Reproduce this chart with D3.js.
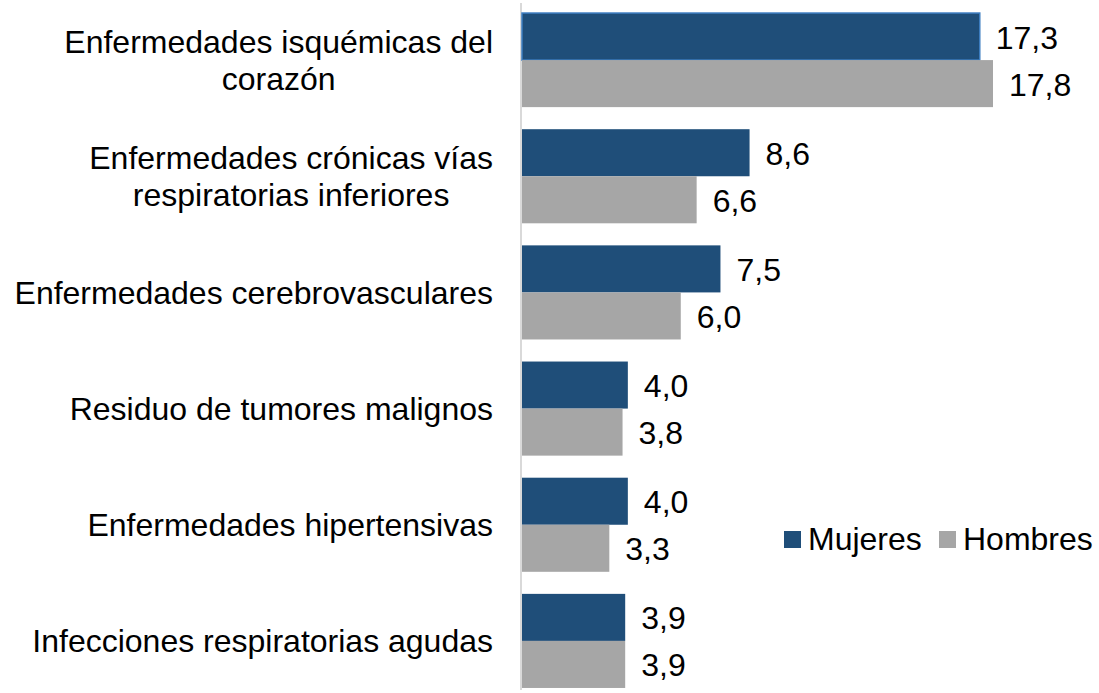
<!DOCTYPE html>
<html>
<head>
<meta charset="utf-8">
<script src="https://cdn.jsdelivr.net/npm/d3@7/dist/d3.min.js"></script>
<style>
  html, body { margin: 0; padding: 0; background: #fff; }
  svg { display: block; font-family: "Liberation Sans", Arial, sans-serif; }
</style>
</head>
<body>
<svg id="chart" width="1099" height="693"></svg>
<script>
const categories = [
  ["Enfermedades isquémicas del", "corazón"],
  ["Enfermedades crónicas vías", "respiratorias inferiores"],
  ["Enfermedades cerebrovasculares"],
  ["Residuo de tumores malignos"],
  ["Enfermedades hipertensivas"],
  ["Infecciones respiratorias agudas"]
];
const seriesNames = ["Mujeres", "Hombres"];
const mujeres = [17.3, 8.6, 7.5, 4.0, 4.0, 3.9];
const hombres = [17.8, 6.6, 6.0, 3.8, 3.3, 3.9];
const colors = ["#1f4e79", "#a6a6a6"];

const svg = d3.select("#chart");
const fontSize = 32;
const x0 = 522;
const x = d3.scaleLinear().domain([0, 17.8]).range([x0, 993]);
const catIdx = d3.range(categories.length);
const y = d3.scaleBand().domain(catIdx).range([2, 699]).paddingInner(0.19).paddingOuter(0.095);
const ySub = d3.scaleBand().domain(seriesNames).range([0, y.bandwidth()]);

const fmt = v => d3.format(".1f")(v).replace(".", ",");
const values = [mujeres, hombres];

// axis line
svg.append("line")
  .attr("x1", 521).attr("x2", 521)
  .attr("y1", 3).attr("y2", 690)
  .attr("stroke", "#d9d9d9").attr("stroke-width", 2);

seriesNames.forEach((s, si) => {
  const g = svg.append("g");
  g.selectAll("rect").data(values[si]).join("rect")
    .attr("x", x0)
    .attr("y", (d, i) => y(i) + ySub(s))
    .attr("width", d => x(d) - x0)
    .attr("height", ySub.bandwidth())
    .attr("fill", colors[si])
    .attr("stroke", (d, i) => (si === 0 && i === 0) ? "#3c7dc0" : "none")
    .attr("stroke-width", 1.5);
  g.selectAll("text").data(values[si]).join("text")
    .attr("x", d => x(d) + 16)
    .attr("y", (d, i) => y(i) + ySub(s) + ySub.bandwidth() / 2 + 12)
    .attr("font-size", fontSize)
    .attr("fill", "#000")
    .text(fmt);
});

// category labels: lines centered to each other, block right-aligned
const labelRight = 493;
const lineH = 37;
categories.forEach((lines, i) => {
  const g = svg.append("g");
  const texts = lines.map((l, li) => g.append("text")
    .attr("font-size", fontSize).attr("fill", "#000")
    .attr("text-anchor", "middle").text(l));
  const maxW = d3.max(texts, t => t.node().getComputedTextLength());
  const cx = labelRight - maxW / 2;
  const cy = y(i) + y.bandwidth() / 2;
  texts.forEach((t, li) => {
    t.attr("x", cx).attr("y", cy + 11.5 + (li - (lines.length - 1) / 2) * lineH);
  });
});

// legend
const legendX = [784, 939];
seriesNames.forEach((s, si) => {
  svg.append("rect")
    .attr("x", legendX[si]).attr("y", 531)
    .attr("width", 17).attr("height", 17)
    .attr("fill", colors[si]);
  svg.append("text")
    .attr("x", legendX[si] + 24).attr("y", 550)
    .attr("font-size", fontSize).attr("fill", "#000")
    .text(s);
});
</script>
</body>
</html>
